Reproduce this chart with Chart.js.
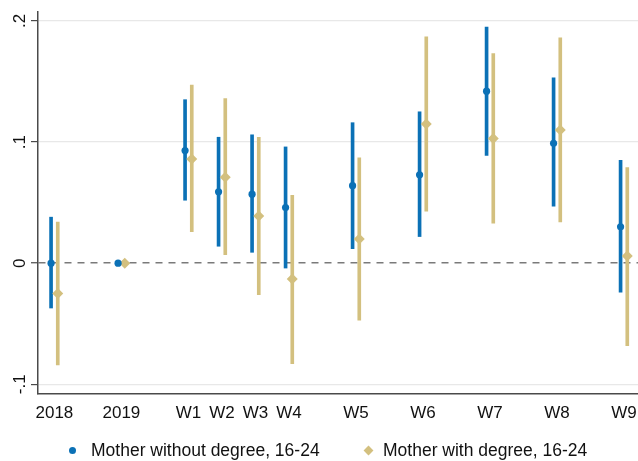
<!DOCTYPE html>
<html>
<head>
<meta charset="utf-8">
<script src="https://cdn.jsdelivr.net/npm/chart.js@4/dist/chart.umd.min.js"></script>
<style>
  html, body { margin: 0; padding: 0; background: #fff; overflow: hidden; }
  #wrap { width: 638px; height: 461px; position: relative; }
  #coefChart { display: block; }
  #legend {
    position: absolute; left: 0; top: 439px; width: 638px; height: 22px;
    font-family: 'Liberation Sans', Arial, Helvetica, sans-serif; font-size: 17.5px; color: #111;
  }
  .item { position: absolute; top: 0; height: 22px; display: flex; align-items: center; white-space: nowrap; }
  .mark { display: inline-block; flex: none; }
  .dot { width: 7px; height: 7px; border-radius: 50%; }
  .dia { width: 7px; height: 7px; transform: rotate(45deg); }
</style>
</head>
<body>
<div id="wrap">
  <canvas id="coefChart" width="638" height="461"></canvas>
  <div id="legend"></div>
</div>
<script>
// waves on the x axis (position in half-wave units, so the gaps show)
const waveLabels = ["2018", "2019", "W1", "W2", "W3", "W4", "W5", "W6", "W7", "W8", "W9"];
const wavePos = [0, 2, 4, 5, 6, 7, 9, 11, 13, 15, 17];

// Mother without degree, 16-24
const noDegEst = [0, 0, 0.093, 0.059, 0.057, 0.046, 0.064, 0.073, 0.142, 0.099, 0.030];
const noDegLo = [-0.037, null, 0.052, 0.014, 0.009, -0.004, 0.012, 0.022, 0.089, 0.047, -0.024];
const noDegHi = [0.038, null, 0.135, 0.104, 0.106, 0.096, 0.116, 0.125, 0.195, 0.153, 0.085];

// Mother with degree, 16-24
const degEst = [-0.025, 0, 0.086, 0.071, 0.039, -0.013, 0.020, 0.115, 0.103, 0.110, 0.006];
const degLo = [-0.084, null, 0.026, 0.007, -0.026, -0.083, -0.047, 0.043, 0.033, 0.034, -0.068];
const degHi = [0.034, null, 0.147, 0.136, 0.104, 0.056, 0.087, 0.187, 0.173, 0.186, 0.079];

const yTickVals = [-0.1, 0, 0.1, 0.2];
const yTickLabels = ["-.1", "0", ".1", ".2"];

const seriesNames = ["Mother without degree, 16-24", "Mother with degree, 16-24"];

const BLUE = "#0b71b6";
const GOLD = "#d3c07f";
const DODGE = 0.1;
const FONT = "'Liberation Sans', Arial, Helvetica, sans-serif";

const points = (est, shift) => wavePos.map((p, i) => ({ x: p + shift, y: est[i] }));
const intervals = (lo, hi, shift) =>
  wavePos.map((p, i) => ({ x: p + shift, y: [lo[i], hi[i]] })).filter((d) => d.y[0] !== null);

const ctx = document.getElementById("coefChart").getContext("2d");
const chart = new Chart(ctx, {
  type: "scatter",
  data: {
    datasets: [
      {
        label: seriesNames[0],
        data: points(noDegEst, -DODGE),
        pointStyle: "circle",
        pointRadius: 3.6,
        backgroundColor: BLUE,
        borderColor: BLUE,
        borderWidth: 0,
      },
      {
        label: seriesNames[1],
        data: points(degEst, DODGE),
        pointStyle: "rectRot",
        pointRadius: 5.5,
        backgroundColor: GOLD,
        borderColor: GOLD,
        borderWidth: 0,
      },
      {
        type: "bar",
        label: "ci0",
        data: intervals(noDegLo, noDegHi, -DODGE),
        backgroundColor: BLUE,
        barThickness: 3,
        grouped: false,
        borderWidth: 0,
      },
      {
        type: "bar",
        label: "ci1",
        data: intervals(degLo, degHi, DODGE),
        backgroundColor: GOLD,
        barThickness: 3,
        grouped: false,
        borderWidth: 0,
      },
    ],
  },
  options: {
    responsive: false,
    animation: false,
    layout: {
      autoPadding: false, // markers near the edge must not shrink the plot
      padding: { top: 12, left: 0, right: 0, bottom: 35 },
    },
    scales: {
      x: {
        type: "linear",
        min: -0.49,
        max: 17.42,
        offset: false,
        afterFit: (s) => { s.height = 32; },
        afterBuildTicks: (s) => { s.ticks = wavePos.map((v) => ({ value: v })); },
        // invisible tick marks only push the labels down
        grid: {
          display: true,
          drawOnChartArea: false,
          drawTicks: true,
          tickLength: 9,
          tickColor: "rgba(0,0,0,0)",
        },
        border: { display: true, color: "#4a4a4a", width: 1.5 },
        ticks: {
          autoSkip: false,
          maxRotation: 0,
          padding: 0,
          color: "#111",
          font: { family: FONT, size: 17 },
          callback: (v) => waveLabels[wavePos.indexOf(v)],
        },
      },
      y: {
        type: "linear",
        min: -0.108,
        max: 0.2074,
        afterFit: (s) => { s.width = 38; },
        afterBuildTicks: (s) => { s.ticks = yTickVals.map((v) => ({ value: v })); },
        grid: {
          color: (c) => (c.tick && c.tick.value === 0 ? "#7a7a7a" : "#e8e8e8"),
          lineWidth: (c) => (c.tick && c.tick.value === 0 ? 1.5 : 1.2),
          tickLength: 7,
          tickColor: "#4a4a4a",
          tickWidth: 1.2,
        },
        border: {
          display: true,
          color: "#4a4a4a",
          width: 1.5,
          dash: (c) => (c.tick && c.tick.value === 0 ? [7, 6] : []),
        },
        ticks: {
          minRotation: 90,
          maxRotation: 90,
          crossAlign: "center",
          padding: 1,
          color: "#111",
          font: { family: FONT, size: 17 },
          callback: (v) => yTickLabels[yTickVals.indexOf(v)],
        },
      },
    },
    plugins: {
      legend: { display: false },
      tooltip: { enabled: false },
    },
  },
});

// legend below the plot, built from the series names and dataset styles
const legendSpots = [{ mark: 69, text: 91, cls: "dot" }, { mark: 364.5, text: 383, cls: "dia" }];
const legendEl = document.getElementById("legend");
chart.data.datasets.slice(0, 2).forEach((ds, i) => {
  const spot = legendSpots[i];
  const m = document.createElement("div");
  m.className = "item";
  m.style.left = spot.mark + "px";
  m.innerHTML = '<span class="mark ' + spot.cls + '" style="background:' + ds.backgroundColor + '"></span>';
  legendEl.appendChild(m);
  const t = document.createElement("div");
  t.className = "item";
  t.style.left = spot.text + "px";
  t.textContent = ds.label;
  legendEl.appendChild(t);
});
</script>
</body>
</html>
